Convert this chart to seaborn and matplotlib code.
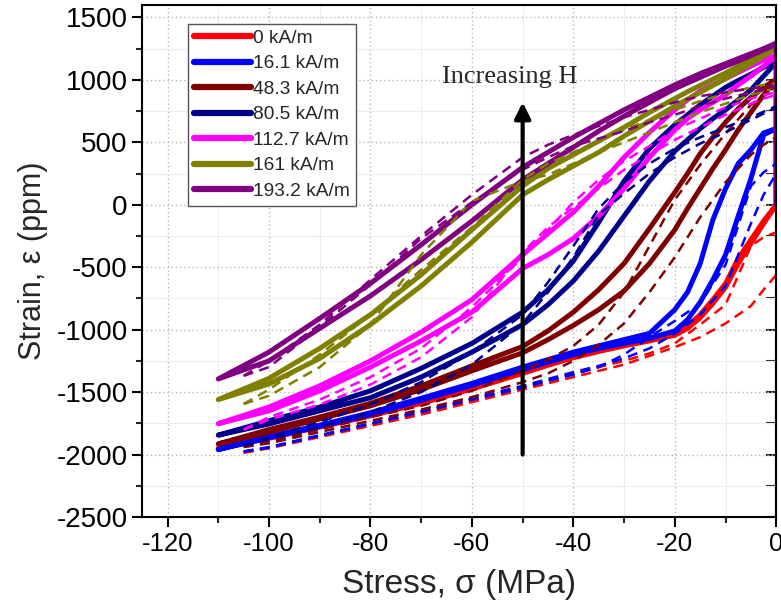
import matplotlib
matplotlib.use("Agg")
import matplotlib.pyplot as plt
import seaborn as sns
import pandas as pd
from matplotlib.ticker import MultipleLocator
from matplotlib.lines import Line2D

# ---------------- data ----------------
fields = ["0 kA/m", "16.1 kA/m", "48.3 kA/m", "80.5 kA/m", "112.7 kA/m", "161 kA/m", "193.2 kA/m"]
colors = ["#ff0000", "#0000ff", "#800000", "#00008b", "#ff00ff", "#808000", "#800080"]

# stress grid for measured (solid) branches
sig_solid = [-110, -100, -90, -80, -70, -60, -50, -45, -40, -35, -30, -25, -20, -17.5, -15, -12.5, -10, -7.5, -5, -2.5, 0]

red_up = [-1950, -1860, -1770, -1680, -1575, -1460, -1330, -1265, -1205, -1160, -1115, -1075, -1030, -970, -880, -760, -630, -430, -280, -130, 0]
red_lo = [-1955, -1870, -1780, -1690, -1590, -1475, -1350, -1285, -1225, -1175, -1130, -1090, -1045, -990, -905, -790, -660, -470, -310, -150, 0]
blue_up = [-1960, -1855, -1765, -1665, -1550, -1430, -1300, -1240, -1180, -1130, -1080, -1030, -840, -700, -470, -120, 130, 330, 440, 575, 610]
blue_lo = [-1960, -1865, -1775, -1680, -1565, -1445, -1320, -1260, -1200, -1150, -1110, -1070, -1010, -920, -780, -600, -400, -90, 210, 560, 610]
dred_up = [-1915, -1800, -1700, -1590, -1450, -1290, -1135, -1010, -860, -680, -470, -190, 100, 250, 410, 540, 660, 770, 860, 940, 1005]
dred_lo = [-1915, -1820, -1715, -1610, -1480, -1330, -1185, -1080, -966, -840, -690, -470, -200, -30, 130, 290, 440, 600, 740, 880, 1000]
navy_up = [-1845, -1730, -1620, -1490, -1310, -1110, -860, -680, -450, -140, 190, 450, 640, 720, 800, 870, 940, 995, 1045, 1100, 1150]
navy_lo = [-1845, -1755, -1650, -1545, -1380, -1180, -960, -800, -610, -370, -90, 190, 430, 520, 610, 690, 760, 840, 920, 1030, 1140]
mag_up = [-1753, -1620, -1450, -1250, -1020, -760, -400, -230, -60, 150, 380, 580, 760, 840, 910, 960, 1010, 1060, 1110, 1160, 1200]
mag_lo = [-1753, -1650, -1490, -1300, -1090, -860, -510, -400, -270, -90, 130, 380, 600, 690, 760, 820, 880, 960, 1030, 1110, 1190]
olive_up = [-1560, -1390, -1150, -880, -560, -200, 150, 290, 400, 510, 620, 740, 850, 905, 955, 1005, 1055, 1110, 1160, 1210, 1262]
olive_lo = [-1560, -1435, -1230, -960, -650, -300, 80, 200, 310, 420, 550, 670, 790, 845, 900, 955, 1010, 1070, 1130, 1190, 1255]
purp_up = [-1395, -1180, -910, -630, -320, 0, 300, 420, 540, 650, 760, 860, 960, 1005, 1050, 1090, 1130, 1170, 1210, 1250, 1295]
purp_lo = [-1395, -1250, -990, -730, -440, -130, 200, 330, 460, 590, 710, 820, 930, 975, 1020, 1065, 1110, 1150, 1195, 1240, 1285]

# stress grid for model (dashed) branches
sig_model = [-105, -100, -90, -80, -70, -60, -50, -45, -40, -35, -30, -25, -20, -15, -10, -5, -2.5, 0]

red_m1 = [-1985, -1950, -1860, -1770, -1680, -1580, -1480, -1430, -1380, -1330, -1280, -1210, -1140, -1060, -950, -810, -680, -560]
red_m2 = [-1985, -1945, -1850, -1760, -1670, -1570, -1465, -1410, -1355, -1300, -1250, -1190, -1110, -960, -800, -330, -260, -220]
blue_m1 = [-1975, -1945, -1850, -1755, -1660, -1560, -1465, -1410, -1360, -1300, -1200, -1060, -930, -790, -480, 150, 260, 330]
blue_m2 = [-1975, -1940, -1845, -1750, -1650, -1550, -1450, -1395, -1340, -1290, -1230, -1150, -1030, -880, -650, -150, 80, 250]
dred_m1 = [-1940, -1900, -1800, -1700, -1610, -1490, -1330, -1240, -1130, -960, -700, -330, 40, 320, 570, 800, 880, 940]
dred_m2 = [-1940, -1910, -1820, -1730, -1640, -1540, -1420, -1350, -1250, -1120, -950, -700, -420, -100, 180, 400, 480, 540]
navy_m1 = [-1930, -1880, -1780, -1660, -1500, -1280, -950, -700, -420, -80, 90, 250, 380, 490, 580, 680, 730, 780]
navy_m2 = [-1930, -1860, -1740, -1600, -1420, -1180, -880, -620, -330, -30, 180, 330, 450, 540, 620, 700, 745, 790]
mag_m1 = [-1800, -1720, -1600, -1440, -1220, -900, -380, -180, -20, 130, 280, 400, 520, 620, 720, 810, 850, 880]
mag_m2 = [-1800, -1700, -1560, -1380, -1150, -820, -420, -200, 20, 200, 350, 470, 600, 690, 780, 850, 880, 900]
olive_m1 = [-1595, -1530, -1300, -960, -400, 30, 190, 240, 330, 420, 500, 580, 660, 740, 810, 880, 910, 930]
olive_m2 = [-1595, -1480, -1200, -880, -520, -180, 200, 330, 420, 510, 600, 680, 760, 830, 890, 940, 960, 970]
purp_m1 = [-1370, -1300, -980, -640, -270, 20, 280, 380, 470, 530, 590, 660, 720, 790, 850, 900, 920, 935]
purp_m2 = [-1370, -1250, -960, -600, -250, 80, 380, 480, 560, 630, 700, 760, 820, 870, 900, 930, 945, 955]

solid_up = [red_up, blue_up, dred_up, navy_up, mag_up, olive_up, purp_up]
solid_lo = [red_lo, blue_lo, dred_lo, navy_lo, mag_lo, olive_lo, purp_lo]
model_1 = [red_m1, blue_m1, dred_m1, navy_m1, mag_m1, olive_m1, purp_m1]
model_2 = [red_m2, blue_m2, dred_m2, navy_m2, mag_m2, olive_m2, purp_m2]

# ---------------- style ----------------
sns.set_style("ticks")
plt.rcParams["font.family"] = ["Liberation Sans", "DejaVu Sans"]
plt.rcParams["axes.unicode_minus"] = False

fig = plt.figure(figsize=(7.81, 6.14), dpi=100)
ax = fig.add_axes([0.182, 0.158, 0.812, 0.834])

def loop_frame(sig, up, lo, with_start):
    xs, ys = [], []
    if with_start:
        xs += [0, 0]
        ys += [0, up[-1]]
    xs += list(reversed(sig)) + list(sig)
    ys += list(reversed(up)) + list(lo)
    return pd.DataFrame({"sigma": xs, "strain": ys})

for i, name in enumerate(fields):
    df = loop_frame(sig_solid, solid_up[i], solid_lo[i], True)
    sns.lineplot(data=df, x="sigma", y="strain", sort=False, estimator=None,
                 color=colors[i], lw=3.6, ax=ax, solid_capstyle="round",
                 solid_joinstyle="round")

for i, name in enumerate(fields):
    for br in (model_1[i], model_2[i]):
        dfm = pd.DataFrame({"sigma": sig_model, "strain": br})
        sns.lineplot(data=dfm, x="sigma", y="strain", sort=False, estimator=None,
                     color=colors[i], lw=1.8, ax=ax)
        ax.lines[-1].set_dashes((4.0, 2.6))

ax.set_xlim(-125, 0)
ax.set_ylim(-2500, 1600)
ax.xaxis.set_major_locator(MultipleLocator(20))
ax.xaxis.set_minor_locator(MultipleLocator(10))
ax.yaxis.set_minor_locator(MultipleLocator(250))
ax.set_yticks([-2500, -2000, -1500, -1000, -500, 0, 500, 1000, 1500])

ax.grid(which="major", color="#b8b8b8", linestyle=(0, (1, 2)), lw=1.0)
ax.grid(which="minor", color="#ededed", linestyle="-", lw=0.8)
ax.set_axisbelow(True)

for s in ax.spines.values():
    s.set_linewidth(1.5)
    s.set_color("black")
ax.tick_params(which="major", direction="out", length=7, width=1.5, colors="black")
ax.tick_params(which="minor", direction="out", length=4, width=1.5)
ax.tick_params(axis="y", labelsize=20)
ax.tick_params(axis="x", labelsize=18.5)
ax.tick_params(left=True, bottom=True, which="both")

sec = ax.secondary_yaxis("right")
sec.yaxis.set_major_locator(MultipleLocator(500))
sec.yaxis.set_minor_locator(MultipleLocator(250))
sec.tick_params(which="both", direction="in", length=7, width=1.5, labelright=False)
sec.spines["right"].set_linewidth(1.5)

ax.set_xlabel("Stress, σ (MPa)", fontsize=24, labelpad=10)
ax.set_ylabel("Strain, ε (ppm)", fontsize=22, labelpad=6)

# arrow and annotation
ax.annotate("", xy=(-50, 820), xytext=(-50, -2000),
            arrowprops=dict(arrowstyle="-|>", lw=3, color="black", mutation_scale=24,
                            shrinkA=0, shrinkB=0))
ax.text(-52.5, 1020, "Increasing H", ha="center", va="center", fontsize=19,
        family=["Liberation Serif", "DejaVu Serif"])

handles = [Line2D([0], [0], color=c, lw=4.5, solid_capstyle="round") for c in colors]
leg = ax.legend(handles, fields, loc="upper left", bbox_to_anchor=(0.072, 0.963),
                fontsize=13.8, frameon=True, fancybox=False, framealpha=1,
                edgecolor="#555555", handlelength=3.0, handletextpad=0.1,
                labelspacing=0.42, borderpad=0.3, borderaxespad=0)
leg.get_frame().set_linewidth(1.0)

fig.savefig("out.png", dpi=100)
